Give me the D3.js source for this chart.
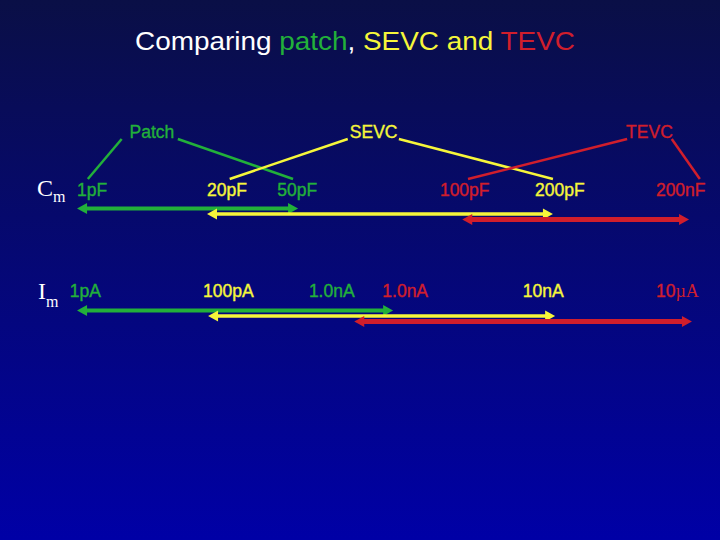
<!DOCTYPE html>
<html>
<head>
<meta charset="utf-8">
<script src="https://cdn.jsdelivr.net/npm/d3@7"></script>
<style>
  html, body { margin: 0; padding: 0; background: #000; }
  svg { display: block; }
</style>
</head>
<body>
<svg id="chart" width="720" height="540"></svg>
<script>
// --- data (positions are in slide units 0..100 along the range axis) ---
const groups = ["Patch", "SEVC", "TEVC"];
const groupPos = [21.1, 51.9, 90.2];
const groupLinkTop = [[16.9, 24.7], [48.3, 55.4], [87.1, 93.3]];
const groupLinkBottom = [[12.2, 40.7], [31.9, 76.8], [65.0, 97.2]];

const rows = ["Cm", "Im"];

const cmTicks = ["1pF", "20pF", "50pF", "100pF", "200pF", "200nF"];
const cmTickPos = [10.7, 28.75, 38.5, 61.1, 74.3, 91.1];
const cmTickGroup = ["Patch", "SEVC", "Patch", "TEVC", "SEVC", "TEVC"];

const imTicks = ["1pA", "100pA", "1.0nA", "1.0nA", "10nA", "10µA"];
const imTickPos = [9.7, 28.2, 42.9, 53.1, 72.6, 91.1];
const imTickGroup = ["Patch", "SEVC", "Patch", "TEVC", "SEVC", "TEVC"];

// range of each method: start / end
const cmStart = [10.7, 28.75, 64.2];
const cmEnd = [41.4, 76.8, 95.7];
const imStart = [10.7, 28.9, 49.2];
const imEnd = [54.6, 77.1, 96.1];

const svg = d3.select("#chart");
const width = 720, height = 540;

// background gradient
const defs = svg.append("defs");
const grad = defs.append("linearGradient")
    .attr("id", "bg")
    .attr("x1", 0).attr("y1", 0).attr("x2", 0).attr("y2", 1);
grad.append("stop").attr("offset", "0%").attr("stop-color", "#0a0f46");
grad.append("stop").attr("offset", "100%").attr("stop-color", "#0000a6");
svg.append("rect").attr("width", width).attr("height", height).attr("fill", "url(#bg)");

// scales
const xScale = d3.scaleLinear().domain([0, 100]).range([0, width]);
const rowScale = d3.scalePoint().domain(rows).range([196, 298]);
const offScale = d3.scalePoint().domain(groups).range([12.5, 23.5]);
const color = d3.scaleOrdinal()
    .domain(groups)
    .range(["#22b03a", "#f6f63a", "#d01e2c"]);
const strokeW = d3.scaleOrdinal().domain(groups).range([4, 3.6, 5]);

const sans = "Arial, 'Liberation Sans', sans-serif";
const serif = "'Times New Roman', 'Liberation Serif', serif";

// title
const title = svg.append("text")
    .attr("x", 355)
    .attr("y", 50)
    .attr("text-anchor", "middle")
    .attr("font-family", sans)
    .attr("font-size", 25)
    .attr("textLength", 440)
    .attr("lengthAdjust", "spacingAndGlyphs");
title.append("tspan").attr("fill", "#ffffff").text("Comparing ");
title.append("tspan").attr("fill", color("Patch")).text("patch");
title.append("tspan").attr("fill", "#ffffff").text(", ");
title.append("tspan").attr("fill", color("SEVC")).text("SEVC and ");
title.append("tspan").attr("fill", color("TEVC")).text("TEVC");

// group labels
svg.selectAll("text.group")
    .data(groups)
    .enter()
    .append("text")
    .attr("class", "group")
    .attr("x", (d, i) => xScale(groupPos[i]))
    .attr("y", 138)
    .attr("text-anchor", "middle")
    .attr("font-family", sans)
    .attr("font-size", 17.5)
    .attr("fill", d => color(d))
    .attr("stroke", d => color(d))
    .attr("stroke-width", 0.35)
    .text(d => d);

// connector lines from group label to its capacitance labels
groups.forEach((g, i) => {
    [0, 1].forEach(k => {
        svg.append("line")
            .attr("x1", xScale(groupLinkTop[i][k]))
            .attr("y1", 139)
            .attr("x2", xScale(groupLinkBottom[i][k]))
            .attr("y2", 179)
            .attr("stroke", color(g))
            .attr("stroke-width", 2.5);
    });
});

// row labels (Cm, Im)
rows.forEach(r => {
    const t = svg.append("text")
        .attr("x", r === "Cm" ? 37 : 38)
        .attr("y", rowScale(r) + (r === "Cm" ? 0 : 1))
        .attr("font-family", serif)
        .attr("font-size", 24)
        .attr("fill", "#ffffff");
    t.append("tspan").text(r[0]);
    t.append("tspan")
        .attr("font-size", 16)
        .attr("dy", r === "Cm" ? 6 : 8)
        .text(r.slice(1));
});

// tick labels
function drawTicks(row, labels, pos, grp) {
    labels.forEach((lab, i) => {
        const t = svg.append("text")
            .attr("x", xScale(pos[i]))
            .attr("y", rowScale(row) - (row === "Im" ? 1 : 0))
            .attr("font-family", sans)
            .attr("font-size", 17.5)
            .attr("fill", color(grp[i]))
            .attr("stroke", color(grp[i]))
            .attr("stroke-width", 0.4);
        if (lab.includes("µ")) {
            const j = lab.indexOf("µ");
            t.append("tspan").text(lab.slice(0, j));
            t.append("tspan").attr("font-family", serif).attr("font-size", 18)
                .attr("stroke-width", 0).text(lab.slice(j));
        } else {
            t.text(lab);
        }
    });
}
drawTicks("Cm", cmTicks, cmTickPos, cmTickGroup);
drawTicks("Im", imTicks, imTickPos, imTickGroup);

// double-headed range arrows
function drawArrows(row, starts, ends) {
    groups.forEach((g, i) => {
        const y = rowScale(row) + offScale(g);
        const x0 = xScale(starts[i]);
        const x1 = xScale(ends[i]);
        const head = 10, half = 5.5;
        svg.append("line")
            .attr("x1", x0 + head - 1)
            .attr("x2", x1 - head + 1)
            .attr("y1", y)
            .attr("y2", y)
            .attr("stroke", color(g))
            .attr("stroke-width", strokeW(g));
        svg.append("path")
            .attr("d", `M${x0},${y} L${x0 + head},${y - half} L${x0 + head},${y + half} Z`)
            .attr("fill", color(g));
        svg.append("path")
            .attr("d", `M${x1},${y} L${x1 - head},${y - half} L${x1 - head},${y + half} Z`)
            .attr("fill", color(g));
    });
}
drawArrows("Cm", cmStart, cmEnd);
drawArrows("Im", imStart, imEnd);
</script>
</body>
</html>
